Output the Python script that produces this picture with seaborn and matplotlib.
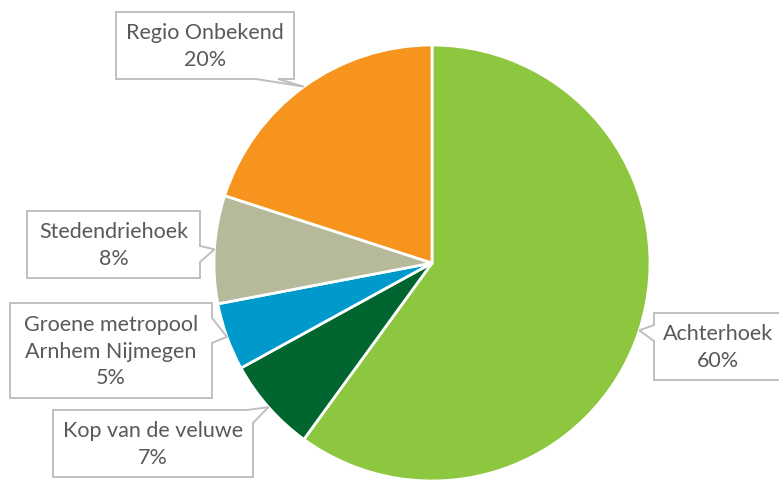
import numpy as np
import matplotlib
matplotlib.use("Agg")
import matplotlib.pyplot as plt
from matplotlib.patches import Polygon
import seaborn as sns

# data
regions = ["Achterhoek", "Kop van de veluwe", "Groene metropool\nArnhem Nijmegen",
           "Stedendriehoek", "Regio Onbekend"]
shares = [60, 7, 5, 8, 20]
colors = ["#8DC63F", "#00652E", "#0099CC", "#B6B99A", "#F7941D"]

# callout boxes in pixel coords (x0, y0, x1, y1), side where the pointer leaves
boxes = [
    ((654, 313, 782, 380), "left", (325, 341)),
    ((53, 410, 253, 477), "corner", (247, 423)),
    ((10, 303, 212, 398), "right", (318, 343)),
    ((27, 211, 200, 278), "right", (246, 262)),
    ((116, 12, 294, 79), "bottom", (256, 278)),
]

sns.set_theme(style="white")
plt.rcParams["font.family"] = ["Lato", "DejaVu Sans"]

fig = plt.figure(figsize=(7.79, 4.8), dpi=100)
ax = fig.add_axes([0, 0, 1, 1])

cx, cy, r = 432, 263, 218
wedges, _ = ax.pie(shares, colors=colors, startangle=-90, counterclock=True,
                   center=(cx, cy), radius=r,
                   wedgeprops=dict(edgecolor="white", linewidth=2))
ax.set_xlim(0, 779)
ax.set_ylim(480, 0)
ax.set_aspect("equal")
ax.axis("off")


def callout(box, side, base, tip):
    x0, y0, x1, y1 = box
    if side == "left":
        pts = [(x0, y0), (x1, y0), (x1, y1), (x0, y1), (x0, base[1]), tip, (x0, base[0])]
    elif side == "right":
        pts = [(x0, y0), (x1, y0), (x1, base[0]), tip, (x1, base[1]), (x1, y1), (x0, y1)]
    elif side == "bottom":
        pts = [(x0, y0), (x1, y0), (x1, y1), (base[1], y1), tip, (base[0], y1), (x0, y1)]
    else:  # top-right corner
        pts = [(x0, y0), (base[0], y0), tip, (x1, base[1]), (x1, y1), (x0, y1)]
    return Polygon(pts, closed=True, facecolor="white", edgecolor="#BFBFBF",
                   linewidth=1.4, zorder=3)


for w, name, val, (box, side, base) in zip(wedges, regions, shares, boxes):
    mid = np.deg2rad((w.theta1 + w.theta2) / 2)
    tip = (cx + r * np.cos(mid), cy + r * np.sin(mid))
    ax.add_patch(callout(box, side, base, tip))
    ax.text((box[0] + box[2]) / 2, (box[1] + box[3]) / 2 + 1, f"{name}\n{val}%",
            ha="center", va="center", fontsize=15.5, color="#595959",
            linespacing=1.42, zorder=4)

fig.savefig("out.png", dpi=100)
